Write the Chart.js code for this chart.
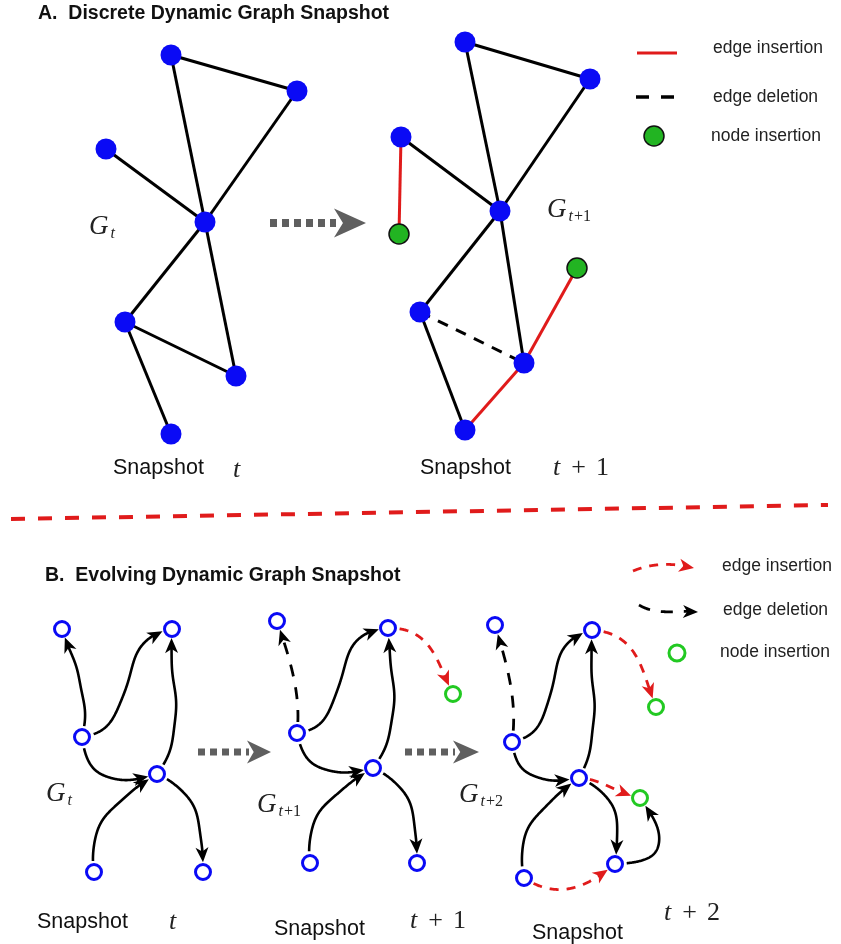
<!DOCTYPE html>
<html><head><meta charset="utf-8">
<script src="https://cdn.jsdelivr.net/npm/chart.js@4"></script>
<style>html,body{margin:0;padding:0;background:#fff}#c{display:block}</style>
</head><body>
<canvas id="c" width="841" height="944"></canvas>
<script>
// ---------- DATA ----------
// Panel A, snapshot t
const A_T_NODES = [[171,55],[297,91],[106,149],[205,222],[125,322],[236,376],[171,434]];
const A_T_EDGES = [[0,1],[0,3],[1,3],[2,3],[3,4],[3,5],[4,5],[4,6]];
// Panel A, snapshot t+1
const A_T1_NODES = [[465,42],[590,79],[401,137],[500,211],[420,312],[524,363],[465,430],[399,234],[577,268]];
const A_T1_NEW = [7,8];
const A_T1_KEPT = [[0,1],[0,3],[1,3],[2,3],[3,4],[3,5],[4,6]];
const A_T1_INSERTED = [[2,7],[6,5],[5,8]];
const A_T1_DELETED = [[4,5]];
// Panel B, snapshot t
const B_T_NODES = [[62,629],[172,629],[82,737],[157,774],[94,872],[203,872]];
const B_T_EDGES = [[2,0],[2,1],[2,3],[3,1],[4,3],[3,5]];
// Panel B, snapshot t+1
const B_T1_NODES = [[277,621],[388,628],[297,733],[373,768],[310,863],[417,863],[453,694]];
const B_T1_NEW = [6];
const B_T1_EDGES = [[2,1],[2,3],[3,1],[4,3],[3,5]];
const B_T1_DELETED = [[2,0]];
const B_T1_INSERTED = [[1,6]];
// Panel B, snapshot t+2
const B_T2_NODES = [[495,625],[592,630],[512,742],[579,778],[524,878],[615,864],[656,707],[640,798]];
const B_T2_NEW = [6,7];
const B_T2_EDGES = [[2,1],[2,3],[3,1],[4,3],[3,5],[5,7]];
const B_T2_DELETED = [[2,0]];
const B_T2_INSERTED = [[1,6],[3,7],[4,5]];

// ---------- SHAPE / LAYOUT ----------
const B_T_BENDS = [[0.15,0.05],[0.3,-0.3],[0.5,0.3],[0.2,0.0],[-0.3,-0.15],[-0.3,-0.15]];
const B_T1_BENDS = [[0.3,-0.35],[0.45,0.25],[0.2,0.05],[-0.3,-0.15],[-0.3,-0.15]];
const B_T1_DEL_BENDS = [[0.1,0.05]];
const B_T1_INS_BENDS = [[-0.35,-0.1]];
const B_T2_BENDS = [[0.3,-0.3],[0.45,0.25],[0.15,0.0],[-0.3,-0.15],[-0.35,-0.2],[0.8,0.5]];
const B_T2_DEL_BENDS = [[0.1,0.05]];
const B_T2_INS_BENDS = [[-0.35,-0.1],[-0.1,0.05],[0.3,0.2]];

const BLUE = '#0a0af5', RED = '#e01b1b', GREEN_FILL = '#22b422', GREEN_RING = '#22c922', GRAY = '#5f5f5f';
const SANS = '"Liberation Sans", Arial, sans-serif';
const SERIF = '"Liberation Serif", "DejaVu Serif", serif';

const pick = (nodes, idx) => idx.map(i => ({x: nodes[i][0], y: nodes[i][1]}));
const all = (nodes, skip=[]) => nodes.map((p,i)=>skip.includes(i)?null:{x:p[0],y:p[1]}).filter(Boolean);

function edgeSets(nodes, edges, color, width, dash) {
  return edges.map(([a,b]) => ({
    type: 'scatter', showLine: true, order: 5, clip: false,
    data: [{x:nodes[a][0], y:nodes[a][1]}, {x:nodes[b][0], y:nodes[b][1]}],
    borderColor: color, borderWidth: width, borderDash: dash || [], pointRadius: 0, fill: false
  }));
}

const datasets = [
  ...edgeSets(A_T_NODES, A_T_EDGES, '#000', 3),
  ...edgeSets(A_T1_NODES, A_T1_KEPT, '#000', 3),
  ...edgeSets(A_T1_NODES, A_T1_INSERTED, RED, 3),
  ...edgeSets(A_T1_NODES, A_T1_DELETED, '#000', 3, [11,9]),
  {type:'scatter', order:1, clip:false, data: all(A_T_NODES), pointRadius:10.5, pointBackgroundColor:BLUE, pointBorderWidth:0},
  {type:'scatter', order:1, clip:false, data: all(A_T1_NODES, A_T1_NEW), pointRadius:10.5, pointBackgroundColor:BLUE, pointBorderWidth:0},
  {type:'scatter', order:1, clip:false, data: pick(A_T1_NODES, A_T1_NEW), pointRadius:10, pointBackgroundColor:GREEN_FILL, pointBorderColor:'#111', pointBorderWidth:1.5},
  {type:'scatter', order:1, clip:false, showLine:true, data:[{x:637,y:53},{x:677,y:53}], borderColor:RED, borderWidth:3, pointRadius:0},
  {type:'scatter', order:1, clip:false, showLine:true, data:[{x:636,y:97},{x:674,y:97}], borderColor:'#000', borderWidth:3.5, borderDash:[13,12], pointRadius:0},
  {type:'scatter', order:1, clip:false, data:[{x:654,y:136}], pointRadius:10, pointBackgroundColor:GREEN_FILL, pointBorderColor:'#111', pointBorderWidth:1.5},
  {type:'scatter', order:1, clip:false, data: all(B_T_NODES), pointRadius:7.5, pointBackgroundColor:'#fff', pointBorderColor:BLUE, pointBorderWidth:3},
  {type:'scatter', order:1, clip:false, data: all(B_T1_NODES, B_T1_NEW), pointRadius:7.5, pointBackgroundColor:'#fff', pointBorderColor:BLUE, pointBorderWidth:3},
  {type:'scatter', order:1, clip:false, data: pick(B_T1_NODES, B_T1_NEW), pointRadius:7.5, pointBackgroundColor:'#fff', pointBorderColor:GREEN_RING, pointBorderWidth:3},
  {type:'scatter', order:1, clip:false, data: all(B_T2_NODES, B_T2_NEW), pointRadius:7.5, pointBackgroundColor:'#fff', pointBorderColor:BLUE, pointBorderWidth:3},
  {type:'scatter', order:1, clip:false, data: pick(B_T2_NODES, B_T2_NEW), pointRadius:7.5, pointBackgroundColor:'#fff', pointBorderColor:GREEN_RING, pointBorderWidth:3},
  {type:'scatter', order:1, clip:false, data:[{x:677,y:653}], pointRadius:8, pointBackgroundColor:'#fff', pointBorderColor:GREEN_RING, pointBorderWidth:3},
];

// ---------- drawing helpers (pixel space via chart scales) ----------
let CH = null;
function px(chart, p) { return [chart.scales.x.getPixelForValue(p[0]), chart.scales.y.getPixelForValue(p[1])]; }
const P = (x, y) => px(CH, [x, y]);

function curvePoints(p0, p3, bends, wiggle) {
  const dx = p3[0]-p0[0], dy = p3[1]-p0[1], L = Math.hypot(dx,dy);
  const nx = -dy/L, ny = dx/L;
  const c1 = [p0[0]+dx/3+nx*bends[0]*L, p0[1]+dy/3+ny*bends[0]*L];
  const c2 = [p0[0]+2*dx/3+nx*bends[1]*L, p0[1]+2*dy/3+ny*bends[1]*L];
  const pts = [];
  const N = 160;
  for (let i=0;i<=N;i++){
    const t=i/N, u=1-t;
    let x = u*u*u*p0[0]+3*u*u*t*c1[0]+3*u*t*t*c2[0]+t*t*t*p3[0];
    let y = u*u*u*p0[1]+3*u*u*t*c1[1]+3*u*t*t*c2[1]+t*t*t*p3[1];
    if (wiggle) {
      const w = wiggle * Math.sin(Math.PI*t) * Math.sin(2*Math.PI*t*Math.max(1.5, L/60));
      x += nx*w; y += ny*w;
    }
    pts.push([x,y]);
  }
  return pts;
}

function arrowHead(ctx, tip, dir, len, half, color) {
  const [ux,uy] = dir, nx=-uy, ny=ux;
  ctx.save(); ctx.setLineDash([]); ctx.fillStyle=color; ctx.beginPath();
  ctx.moveTo(tip[0], tip[1]);
  ctx.lineTo(tip[0]-ux*len+nx*half, tip[1]-uy*len+ny*half);
  ctx.lineTo(tip[0]-ux*len*0.72, tip[1]-uy*len*0.72);
  ctx.lineTo(tip[0]-ux*len-nx*half, tip[1]-uy*len-ny*half);
  ctx.closePath(); ctx.fill(); ctx.restore();
}

function drawCurveArrow(ctx, p0, p3, bends, opt) {
  const pts = curvePoints(p0, p3, bends, opt.wiggle || 0);
  const sg = opt.startGap ?? 11, eg = opt.endGap ?? 9;
  let i0=0, i1=pts.length-1;
  while (i0<pts.length-1 && Math.hypot(pts[i0][0]-p0[0], pts[i0][1]-p0[1]) < sg) i0++;
  while (i1>0 && Math.hypot(pts[i1][0]-p3[0], pts[i1][1]-p3[1]) < eg) i1--;
  const tip = pts[i1];
  let j = i1; while (j>i0 && Math.hypot(pts[j][0]-tip[0], pts[j][1]-tip[1]) < opt.headLen*0.6) j--;
  let k = i1; while (k>i0 && Math.hypot(pts[k][0]-tip[0], pts[k][1]-tip[1]) < opt.headLen) k--;
  ctx.save();
  ctx.strokeStyle=opt.color; ctx.lineWidth=opt.width; ctx.lineCap='butt'; ctx.lineJoin='round';
  ctx.setLineDash(opt.dash||[]);
  ctx.beginPath(); ctx.moveTo(pts[i0][0], pts[i0][1]);
  for (let i=i0+1;i<=j;i++) ctx.lineTo(pts[i][0], pts[i][1]);
  ctx.stroke(); ctx.restore();
  const d = [tip[0]-pts[k][0], tip[1]-pts[k][1]], dl = Math.hypot(d[0],d[1]) || 1;
  arrowHead(ctx, tip, [d[0]/dl, d[1]/dl], opt.headLen, opt.headHalf, opt.color);
}

function drawGraphCurves(chart, ctx, nodes, edges, bends, opt) {
  edges.forEach(([a,b],i) => drawCurveArrow(ctx, px(chart,nodes[a]), px(chart,nodes[b]), bends[i], opt));
}

function grayArrow(ctx, x0, x1, y, thick, dash, headLen, headHalf) {
  const a = P(x0,y), b = P(x1,y);
  ctx.save(); ctx.strokeStyle=GRAY; ctx.lineWidth=thick; ctx.setLineDash(dash); ctx.lineCap='butt';
  ctx.beginPath(); ctx.moveTo(a[0],a[1]); ctx.lineTo(b[0]-headLen+2,b[1]); ctx.stroke(); ctx.restore();
  arrowHead(ctx, b, [1,0], headLen, headHalf, GRAY);
}

function txt(ctx, s, x, y, font, color='#111') {
  const p = P(x,y);
  ctx.save(); ctx.font=font; ctx.fillStyle=color; ctx.textAlign='left'; ctx.textBaseline='middle';
  ctx.fillText(s, p[0], p[1]); ctx.restore();
}
// math: sequence of [text, italic?, size, dy, gapAfter]
function math(ctx, parts, x, y) {
  const p = P(x,y);
  let cx = p[0];
  parts.forEach(([s, it, size, dy, gap]) => {
    ctx.save(); ctx.font = (it?'italic ':'') + size + 'px ' + SERIF; ctx.fillStyle='#222';
    ctx.textBaseline='middle'; ctx.fillText(s, cx, p[1]+(dy||0));
    cx += ctx.measureText(s).width + (gap||0); ctx.restore();
  });
}

const diagram = {
  id: 'diagram',
  beforeDatasetsDraw(chart) {
    CH = chart;
    const ctx = chart.ctx;
    const s0 = P(11,519), s1 = P(828,505);
    ctx.save(); ctx.strokeStyle=RED; ctx.lineWidth=4; ctx.setLineDash([14,13]);
    ctx.beginPath(); ctx.moveTo(s0[0],s0[1]); ctx.lineTo(s1[0],s1[1]); ctx.stroke(); ctx.restore();
    grayArrow(ctx, 270, 366, 223, 8, [7,5], 32, 14.5);
    grayArrow(ctx, 198, 271, 752, 7, [7,5], 24, 11.5);
    grayArrow(ctx, 405, 479, 752, 7, [7,5], 26, 11.5);
    const solid = {color:'#000', width:2.6, headLen:15, headHalf:6.5, wiggle:0.8};
    const delB = {color:'#000', width:2.8, dash:[12,11], headLen:15, headHalf:6.5};
    const insB = {color:RED, width:2.8, dash:[9,8], headLen:15, headHalf:6.5};
    drawGraphCurves(chart, ctx, B_T_NODES, B_T_EDGES, B_T_BENDS, solid);
    drawGraphCurves(chart, ctx, B_T1_NODES, B_T1_EDGES, B_T1_BENDS, solid);
    drawGraphCurves(chart, ctx, B_T1_NODES, B_T1_DELETED, B_T1_DEL_BENDS, delB);
    drawGraphCurves(chart, ctx, B_T1_NODES, B_T1_INSERTED, B_T1_INS_BENDS, insB);
    drawGraphCurves(chart, ctx, B_T2_NODES, B_T2_EDGES, B_T2_BENDS, solid);
    drawGraphCurves(chart, ctx, B_T2_NODES, B_T2_DELETED, B_T2_DEL_BENDS, delB);
    drawGraphCurves(chart, ctx, B_T2_NODES, B_T2_INSERTED, B_T2_INS_BENDS, insB);
    drawCurveArrow(ctx, P(633,571), P(694,568), [-0.12,-0.1], Object.assign({}, insB, {startGap:0,endGap:0}));
    drawCurveArrow(ctx, P(639,605), P(698,612), [0.15,0.0], Object.assign({}, delB, {startGap:0,endGap:0}));
  },
  afterDatasetsDraw(chart) {
    CH = chart;
    const ctx = chart.ctx;
    txt(ctx, 'A.  Discrete Dynamic Graph Snapshot', 38, 14, 'bold 19.5px ' + SANS);
    txt(ctx, 'B.  Evolving Dynamic Graph Snapshot', 45, 576, 'bold 19.5px ' + SANS);
    const lf = '17.5px ' + SANS;
    txt(ctx, 'edge insertion', 713, 48, lf, '#222');
    txt(ctx, 'edge deletion', 713, 97, lf, '#222');
    txt(ctx, 'node insertion', 711, 136, lf, '#222');
    txt(ctx, 'edge insertion', 722, 566, lf, '#222');
    txt(ctx, 'edge deletion', 723, 610, lf, '#222');
    txt(ctx, 'node insertion', 720, 652, lf, '#222');
    const sf = '21.5px ' + SANS;
    txt(ctx, 'Snapshot', 113, 468, sf);
    txt(ctx, 'Snapshot', 420, 468, sf);
    txt(ctx, 'Snapshot', 37, 922, sf);
    txt(ctx, 'Snapshot', 274, 929, sf);
    txt(ctx, 'Snapshot', 532, 933, sf);
    math(ctx, [['t',1,26,0,0]], 233, 470);
    math(ctx, [['t',1,26,0,11],['+',0,26,0,10],['1',0,26,0,0]], 553, 468);
    math(ctx, [['t',1,26,0,0]], 169, 922);
    math(ctx, [['t',1,26,0,11],['+',0,26,0,10],['1',0,26,0,0]], 410, 921);
    math(ctx, [['t',1,26,0,11],['+',0,26,0,10],['2',0,26,0,0]], 664, 913);
    math(ctx, [['G',1,27,0,2],['t',1,16,7,1]], 89, 227);
    math(ctx, [['G',1,27,0,2],['t',1,16,7,1],['+1',0,16,7,0]], 547, 210);
    math(ctx, [['G',1,27,0,2],['t',1,16,7,1]], 46, 794);
    math(ctx, [['G',1,27,0,2],['t',1,16,7,1],['+1',0,16,7,0]], 257, 805);
    math(ctx, [['G',1,27,0,2],['t',1,16,7,1],['+2',0,16,7,0]], 459, 795);
  }
};

new Chart(document.getElementById('c'), {
  type: 'scatter',
  data: { datasets },
  options: {
    responsive: false, animation: false, events: [],
    layout: { padding: 0, autoPadding: false },
    plugins: { legend: { display: false }, tooltip: { enabled: false } },
    scales: {
      x: { type: 'linear', min: 0, max: 841, display: false },
      y: { type: 'linear', min: 0, max: 944, reverse: true, display: false }
    }
  },
  plugins: [diagram]
});
</script>
</body></html>
